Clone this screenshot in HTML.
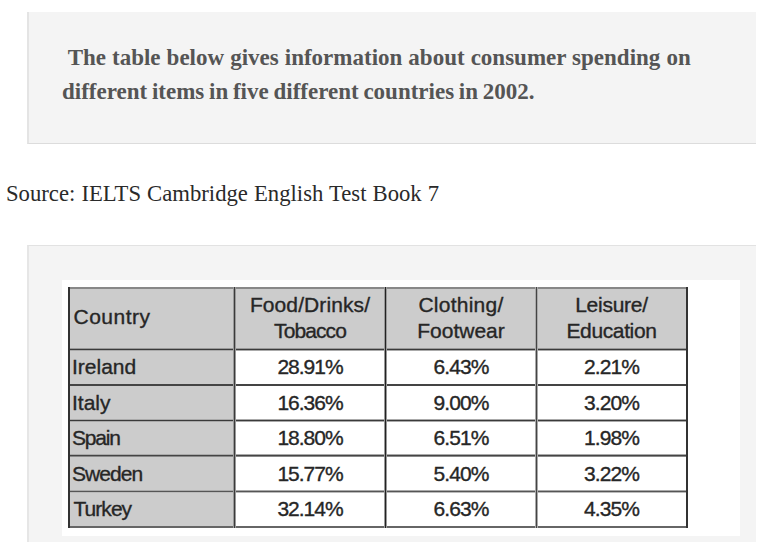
<!DOCTYPE html>
<html>
<head>
<meta charset="utf-8">
<style>
html,body{margin:0;padding:0;background:#fff;width:761px;height:542px;overflow:hidden;position:relative}
.q{position:absolute;left:27px;top:12px;width:727px;height:131px;background:#f4f4f4;border-left:2px solid #e4e4e4;border-bottom:1px solid #dcdcdc}
.qt{position:absolute;left:62px;top:41px;font-family:"Liberation Serif",serif;font-weight:bold;font-size:23px;line-height:34px;color:#555555;white-space:pre}
.src{position:absolute;left:6px;top:179px;word-spacing:0.4px;font-family:"Liberation Serif",serif;font-size:22.7px;line-height:30px;color:#2a2a2a;white-space:pre}
.fig{position:absolute;left:27px;top:245px;width:727px;height:400px;background:#f4f4f4;border-top:1px solid #e2e2e2;border-left:2px solid #e6e6e6}
.img{position:absolute;left:62px;top:280px;width:678px;height:256px;background:#fff}
.c{position:absolute;background:#cccccc}
.h{position:absolute;height:2px;background:#404040}
.v{position:absolute;width:2px;background:#3a3a3a}
.t{position:absolute;font-family:"Liberation Sans",sans-serif;font-size:21px;line-height:26px;color:#262626;white-space:pre;text-align:center;-webkit-text-stroke:0.35px #262626}
.l{text-align:left}
</style>
</head>
<body>
<div class="q"></div>
<div class="qt"><span style="word-spacing:0.3px"> The table below gives information about consumer spending on</span>
<span style="word-spacing:-1px">different items in five different countries in 2002.</span></div>
<div class="src">Source: IELTS Cambridge English Test Book 7</div>
<div class="fig"></div>
<div class="img"></div>
<div class="c" style="left:69px;top:288px;width:618px;height:61px"></div>
<div class="c" style="left:69px;top:349px;width:165px;height:178px"></div>
<div style="position:absolute;left:68px;top:287px;width:620px;height:2px;background:linear-gradient(to bottom,#888 0px,#888 1px,#888 1px,#888 2px)"></div>
<div style="position:absolute;left:68px;top:348px;width:620px;height:3px;background:linear-gradient(to bottom,#999 0px,#999 1px,#3a3a3a 1px,#3a3a3a 2px,#aaa 2px,#aaa 3px)"></div>
<div style="position:absolute;left:68px;top:384px;width:620px;height:2px;background:linear-gradient(to bottom,#444 0px,#444 1px,#444 1px,#444 2px)"></div>
<div style="position:absolute;left:68px;top:419px;width:620px;height:3px;background:linear-gradient(to bottom,#aaa 0px,#aaa 1px,#3a3a3a 1px,#3a3a3a 2px,#aaa 2px,#aaa 3px)"></div>
<div style="position:absolute;left:68px;top:454px;width:620px;height:3px;background:linear-gradient(to bottom,#aaa 0px,#aaa 1px,#444 1px,#444 2px,#888 2px,#888 3px)"></div>
<div style="position:absolute;left:68px;top:490px;width:620px;height:3px;background:linear-gradient(to bottom,#aaa 0px,#aaa 1px,#555 1px,#555 2px,#bbb 2px,#bbb 3px)"></div>
<div style="position:absolute;left:68px;top:526px;width:620px;height:2px;background:linear-gradient(to bottom,#666 0px,#666 1px,#666 1px,#666 2px)"></div>
<div style="position:absolute;left:68px;top:287px;width:2px;height:241px;background:linear-gradient(to right,#333 0px,#333 1px,#333 1px,#333 2px)"></div>
<div style="position:absolute;left:233px;top:287px;width:3px;height:241px;background:linear-gradient(to right,#999 0px,#999 1px,#3a3a3a 1px,#3a3a3a 2px,#999 2px,#999 3px)"></div>
<div style="position:absolute;left:384px;top:287px;width:3px;height:241px;background:linear-gradient(to right,#999 0px,#999 1px,#222 1px,#222 2px,#999 2px,#999 3px)"></div>
<div style="position:absolute;left:535px;top:287px;width:3px;height:241px;background:linear-gradient(to right,#aaa 0px,#aaa 1px,#444 1px,#444 2px,#aaa 2px,#aaa 3px)"></div>
<div style="position:absolute;left:686px;top:287px;width:2px;height:241px;background:linear-gradient(to right,#333 0px,#333 1px,#333 1px,#333 2px)"></div>

<div class="t l" style="left:73.5px;top:304px;letter-spacing:0.5px;">Country</div>
<div class="t" style="left:235px;top:292px;width:150px;letter-spacing:0.1px;">Food/Drinks/</div>
<div class="t" style="left:235px;top:318px;width:150px;letter-spacing:-0.9px;">Tobacco</div>
<div class="t" style="left:387px;top:292px;width:148px;letter-spacing:0.25px;">Clothing/</div>
<div class="t" style="left:387px;top:318px;width:148px;">Footwear</div>
<div class="t" style="left:537px;top:292px;width:149px;letter-spacing:-0.25px;">Leisure/</div>
<div class="t" style="left:537px;top:318px;width:149px;letter-spacing:-0.37px;">Education</div>
<div class="t l" style="left:72px;top:354px;">Ireland</div>
<div class="t" style="left:235px;top:354px;width:150px;letter-spacing:-1px;">28.91%</div>
<div class="t" style="left:387px;top:354px;width:148px;letter-spacing:-0.9px;">6.43%</div>
<div class="t" style="left:537px;top:354px;width:149px;letter-spacing:-0.95px;">2.21%</div>
<div class="t l" style="left:72px;top:390px;">Italy</div>
<div class="t" style="left:235px;top:390px;width:150px;letter-spacing:-1px;">16.36%</div>
<div class="t" style="left:387px;top:390px;width:148px;letter-spacing:-0.9px;">9.00%</div>
<div class="t" style="left:537px;top:390px;width:149px;letter-spacing:-0.95px;">3.20%</div>
<div class="t l" style="left:72px;top:425px;letter-spacing:-1.2px;">Spain</div>
<div class="t" style="left:235px;top:425px;width:150px;letter-spacing:-1px;">18.80%</div>
<div class="t" style="left:387px;top:425px;width:148px;letter-spacing:-0.9px;">6.51%</div>
<div class="t" style="left:537px;top:425px;width:149px;letter-spacing:-0.95px;">1.98%</div>
<div class="t l" style="left:72px;top:461px;letter-spacing:-0.94px;">Sweden</div>
<div class="t" style="left:235px;top:461px;width:150px;letter-spacing:-1px;">15.77%</div>
<div class="t" style="left:387px;top:461px;width:148px;letter-spacing:-0.9px;">5.40%</div>
<div class="t" style="left:537px;top:461px;width:149px;letter-spacing:-0.95px;">3.22%</div>
<div class="t l" style="left:73.5px;top:496px;letter-spacing:-0.96px;">Turkey</div>
<div class="t" style="left:235px;top:496px;width:150px;letter-spacing:-1px;">32.14%</div>
<div class="t" style="left:387px;top:496px;width:148px;letter-spacing:-0.9px;">6.63%</div>
<div class="t" style="left:537px;top:496px;width:149px;letter-spacing:-0.95px;">4.35%</div>
</body>
</html>
